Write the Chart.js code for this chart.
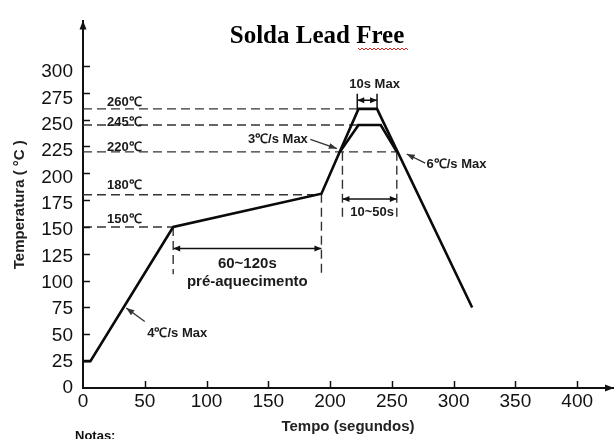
<!DOCTYPE html>
<html>
<head>
<meta charset="utf-8">
<script src="https://cdn.jsdelivr.net/npm/chart.js@4"></script>
<style>
  html, body { margin: 0; padding: 0; background: #fff; }
  #wrap { width: 614px; height: 439px; }
</style>
</head>
<body>
<div id="wrap"><canvas id="myChart" width="614" height="439"></canvas></div>
<script>
// Reflow profile (time in s, temperature in °C)
var profileTime = [0, 6, 73, 193, 223, 238, 315];
var profileTemp = [25, 25, 150, 181, 260, 260, 75];
// inner (245 °C) peak
var innerTime = [208, 223, 241, 254];
var innerTemp = [220, 245, 245, 220];

// dashed reference levels
var levelTemp = [260, 245, 220, 180, 150];
var levelEnd = [223, 223, 255, 193, 73];
var levelLabels = ["260℃", "245℃", "220℃", "180℃", "150℃"];
var levelLabelTemp = [266, 247, 224, 189, 157];
var levelLabelTime = 19.5;

// vertical dashed markers
var markTime = [73, 193, 210, 254];
var markTop = [150, 181, 220, 220];
var markBottom = [106, 106, 156, 156];

// dimension arrows (start, end, height)
var spanStart = [73, 210, 222];
var spanEnd = [193, 254, 238];
var spanTemp = [130, 176, 268];
// end stops of the "10s Max" arrow
var stopTime = [222, 238];
var stopLow = 259;
var stopHigh = 274;

// slope pointers
var pointerLabels = ["3℃/s Max", "6℃/s Max", "4℃/s Max"];
var pointerFromTime = [184, 277, 50];
var pointerFromTemp = [231.5, 209.5, 62];
var pointerToTime = [205.5, 262, 35];
var pointerToTemp = [223, 218, 74.5];
var pointerTextTime = [182, 278, 52];
var pointerTextTemp = [232, 208, 51];
var pointerAlign = ["right", "left", "left"];

// other notes
var noteLabels = ["10s Max", "10~50s", "60~120s", "pré-aquecimento"];
var noteTime = [236, 234, 133, 133];
var noteTemp = [283, 164, 116, 98.5];

// axis ticks
var xTicks = [0, 50, 100, 150, 200, 250, 300, 350, 400];
var yTicks = [0, 25, 50, 75, 100, 125, 150, 175, 200, 225, 250, 275, 300];

function pts(xs, ys) {
    return xs.map(function(x, i) { return { x: x, y: ys[i] }; });
}

function seg(points, opts) {
    var d = {
        data: points,
        borderColor: "#111",
        borderWidth: 1.5,
        pointRadius: 0,
        fill: false,
        tension: 0,
        yAxisID: "y"
    };
    for (var k in opts) d[k] = opts[k];
    return d;
}

var datasets = [];
datasets.push(seg(pts(profileTime, profileTemp), { borderWidth: 2.6, borderColor: "#0a0a0a" }));
datasets.push(seg(pts(innerTime, innerTemp), { borderWidth: 2.6, borderColor: "#0a0a0a" }));

levelTemp.forEach(function(v, i) {
    datasets.push(seg([{ x: 0, y: v }, { x: levelEnd[i], y: v }], { borderDash: [9, 5], borderColor: "#333", borderWidth: 1.4 }));
});
markTime.forEach(function(t, i) {
    datasets.push(seg([{ x: t, y: markTop[i] }, { x: t, y: markBottom[i] }], { borderDash: [9, 5], borderColor: "#333", borderWidth: 1.4 }));
});
spanStart.forEach(function(s, i) {
    datasets.push(seg([{ x: s, y: spanTemp[i] }, { x: spanEnd[i], y: spanTemp[i] }], {}));
});
stopTime.forEach(function(t) {
    datasets.push(seg([{ x: t, y: stopLow }, { x: t, y: stopHigh }], {}));
});
pointerFromTime.forEach(function(t, i) {
    datasets.push(seg([{ x: t, y: pointerFromTemp[i] }, { x: pointerToTime[i], y: pointerToTemp[i] }], { borderColor: "#333", borderWidth: 1.3 }));
});

function arrowHead(ctx, x1, y1, x2, y2, len, half) {
    var a = Math.atan2(y2 - y1, x2 - x1);
    ctx.beginPath();
    ctx.moveTo(x2, y2);
    ctx.lineTo(x2 - len * Math.cos(a) + half * Math.sin(a), y2 - len * Math.sin(a) - half * Math.cos(a));
    ctx.lineTo(x2 - len * Math.cos(a) - half * Math.sin(a), y2 - len * Math.sin(a) + half * Math.cos(a));
    ctx.closePath();
    ctx.fill();
}

var decor = {
    id: "decor",
    afterDraw: function(chart) {
        var ctx = chart.ctx;
        var xs = chart.scales.x;
        var ys = chart.scales.y;
        var area = chart.chartArea;
        ctx.save();
        ctx.fillStyle = "#111";
        ctx.strokeStyle = "#111";

        // inward tick marks
        ctx.lineWidth = 1.5;
        xTicks.forEach(function(v) {
            if (v === 0) return;
            var px = Math.round(xs.getPixelForValue(v)) + 0.5;
            ctx.beginPath();
            ctx.moveTo(px, area.bottom);
            ctx.lineTo(px, area.bottom - 7);
            ctx.stroke();
        });
        yTicks.forEach(function(v) {
            if (v === 0) return;
            var py = Math.round(ys.getPixelForValue(v)) + 0.5;
            ctx.beginPath();
            ctx.moveTo(area.left, py);
            ctx.lineTo(area.left + 7, py);
            ctx.stroke();
        });

        // axis arrows
        arrowHead(ctx, area.left, area.top + 20, area.left, area.top - 1, 9, 3.5);
        arrowHead(ctx, area.right - 20, area.bottom, area.right + 1, area.bottom, 9, 3.5);

        // dimension arrow heads
        spanStart.forEach(function(s, i) {
            var y = ys.getPixelForValue(spanTemp[i]);
            var a = xs.getPixelForValue(s);
            var b = xs.getPixelForValue(spanEnd[i]);
            arrowHead(ctx, b, y, a, y, 7, 3);
            arrowHead(ctx, a, y, b, y, 7, 3);
        });
        // pointer heads
        ctx.fillStyle = "#333";
        pointerFromTime.forEach(function(t, i) {
            arrowHead(ctx, xs.getPixelForValue(t), ys.getPixelForValue(pointerFromTemp[i]),
                xs.getPixelForValue(pointerToTime[i]), ys.getPixelForValue(pointerToTemp[i]), 8, 3);
        });

        // texts
        ctx.fillStyle = "#1a1a1a";
        ctx.textBaseline = "middle";
        ctx.font = "bold 13px 'Liberation Sans', Arial, sans-serif";
        ctx.textAlign = "left";
        levelLabels.forEach(function(s, i) {
            ctx.fillText(s, xs.getPixelForValue(levelLabelTime), ys.getPixelForValue(levelLabelTemp[i]));
        });
        pointerLabels.forEach(function(s, i) {
            ctx.textAlign = pointerAlign[i];
            ctx.fillText(s, xs.getPixelForValue(pointerTextTime[i]), ys.getPixelForValue(pointerTextTemp[i]));
        });
        ctx.textAlign = "center";
        noteLabels.forEach(function(s, i) {
            ctx.font = i < 2 ? "bold 13px 'Liberation Sans', Arial, sans-serif" : "bold 15px 'Liberation Sans', Arial, sans-serif";
            ctx.fillText(s, xs.getPixelForValue(noteTime[i]), ys.getPixelForValue(noteTemp[i]));
        });

        // title
        ctx.fillStyle = "#000";
        ctx.font = "bold 25px 'Liberation Serif', 'Times New Roman', serif";
        ctx.textAlign = "center";
        ctx.fillText("Solda Lead Free", 317, 37);
        // spell-check squiggle under "Free"
        ctx.strokeStyle = "#d22";
        ctx.lineWidth = 1;
        ctx.beginPath();
        for (var x = 358; x <= 408; x += 2) {
            var yy = ((x - 358) / 2) % 2 === 0 ? 48 : 50;
            if (x === 358) ctx.moveTo(x, yy); else ctx.lineTo(x, yy);
        }
        ctx.stroke();

        // notes header (cut off at the bottom)
        ctx.fillStyle = "#111";
        ctx.font = "bold 13px 'Liberation Sans', Arial, sans-serif";
        ctx.textAlign = "left";
        ctx.textBaseline = "top";
        ctx.fillText("Notas:", 75, 430);
        ctx.restore();
    }
};

const ctx = document.getElementById("myChart");
var myChart = new Chart(ctx, {
    type: "line",
    data: { datasets: datasets },
    plugins: [decor],
    options: {
        responsive: false,
        animation: false,
        devicePixelRatio: 1,
        layout: { padding: { top: 13, right: 1, bottom: 0, left: 0 } },
        plugins: {
            legend: { display: false },
            tooltip: { enabled: false }
        },
        scales: {
            x: {
                type: "linear",
                min: 0,
                max: 429,
                grid: { display: false, drawTicks: false },
                border: { display: true, color: "#111", width: 2 },
                afterBuildTicks: function(s) { s.ticks = xTicks.map(function(v) { return { value: v }; }); },
                afterFit: function(s) { s.height = 51; },
                ticks: {
                    autoSkip: false,
                    maxRotation: 0,
                    padding: 2,
                    color: "#111",
                    font: { family: "'Liberation Sans', Arial, sans-serif", size: 19 }
                },
                title: {
                    display: true,
                    text: "Tempo (segundos)",
                    color: "#222",
                    font: { family: "'Liberation Sans', Arial, sans-serif", size: 15, weight: "bold" },
                    padding: { top: 0, bottom: 3 }
                }
            },
            y: {
                type: "linear",
                display: false,
                min: 0,
                max: 341.5
            },
            yl: {
                type: "linear",
                position: "left",
                min: 0,
                max: 348.3,
                grid: { display: false, drawTicks: false },
                border: { display: true, color: "#111", width: 2 },
                afterBuildTicks: function(s) { s.ticks = yTicks.map(function(v) { return { value: v }; }); },
                afterFit: function(s) { s.width = 83; },
                ticks: {
                    autoSkip: false,
                    padding: 10,
                    color: "#111",
                    font: { family: "'Liberation Sans', Arial, sans-serif", size: 19 }
                },
                title: {
                    display: true,
                    text: "Temperatura ( °C )",
                    color: "#222",
                    font: { family: "'Liberation Sans', Arial, sans-serif", size: 15, weight: "bold" },
                    padding: { top: 11, bottom: 0 }
                }
            }
        }
    }
});
</script>
</body>
</html>
